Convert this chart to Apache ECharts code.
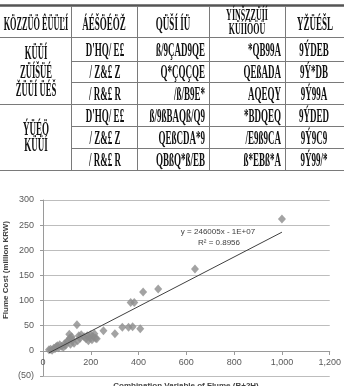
<!DOCTYPE html>
<html><head><meta charset="utf-8">
<script src="https://cdn.jsdelivr.net/npm/echarts@6/dist/echarts.min.js"></script>
<style>html,body{margin:0;padding:0;background:#fff}#c{width:344px;height:386px}</style>
</head><body><div id="c"></div>
<script>
// ---- table texts (garbled glyphs as they appear) ----
var headerCells = ["KÖZZÜÖ ÊÜÜĽÍ", "ÁÉŠÖÉÖŽ", "QÜŠÍ ÍÜ", "YÍNŠZZÜÍÍ\nKÜÍÍÖÖÜ", "YŽÜÉŠL"];
var groupLabels = ["KÜÜÍ\nZÜÍŠÜÉ\nŽÜÜÍ ÜÉŠ", "ÝÜÉÖ\nKÜÜÍ"];
var rowCol2 = ["D'HQ/ E£", "/ Z&£ Z", "/ R&£ R", "D'HQ/ E£", "/ Z&£ Z", "/ R&£ R"];
var rowCol3 = ["ß/9ÇAD9QE", "Q*ÇQÇQE", "/ß/B9E*", "ß/9ßBAQß/Q9", "QEßCDA*9", "QBßQ*ß/EB"];
var rowCol4 = ["*QB99A", "QEßADA", "AQEQY", "*BDQEQ", "/E9ß9CA", "ß*EBß*A"];
var rowCol5 = ["9ÝDEB", "9Ý*DB", "9Ý99A", "9ÝDED", "9Ý9C9", "9Ý99/*"];

// ---- chart data ----
var combVar = [1000, 636, 482, 419, 367, 382, 332, 358, 375, 407, 301, 253, 142,
  25, 32, 38, 45, 50, 55, 60, 65, 70, 78, 85, 90, 95, 100, 105, 110, 112, 115, 120, 125, 130,
  145, 150, 155, 160, 172, 180, 185, 190, 195, 200, 205, 210, 215, 220, 225];
var flumeCost = [262, 163, 123, 117, 96, 96, 47, 47, 48, 44, 34, 40, 52,
  2, 3, 1, 5, 4, 8, 10, 6, 12, 9, 7, 14, 11, 18, 20, 33, 25, 13, 28, 22, 15,
  20, 30, 25, 32, 28, 24, 30, 20, 27, 32, 22, 28, 34, 25, 24];
var trendX = [25, 1000];
var trendY = [-4, 236];
var xTicks = [0, 200, 400, 600, 800, 1000, 1200];
var yTicks = [-50, 0, 50, 100, 150, 200, 250, 300];
var eqText = "y = 246005x - 1E+07";
var r2Text = "R² = 0.8956";
var xName = "Combination Variable of Flume (B+2H)";
var yName = "Flume Cost (million KRW)";

// ---- table layout ----
var rowY = [37, 61, 82, 104, 126, 148, 170];
var g = [];
function hline(y, x1, x2, w, c) {
  g.push({type: 'line', shape: {x1: x1, y1: y, x2: x2, y2: y}, style: {stroke: c || '#7a7a7a', lineWidth: w || 1}, silent: true});
}
function vline(x, y1, y2) {
  g.push({type: 'line', shape: {x1: x, y1: y1, x2: x, y2: y2}, style: {stroke: '#7a7a7a', lineWidth: 1}, silent: true});
}
function txt(s, x, y, align, lh, sx, fs) {
  g.push({type: 'text', x: x, y: y, scaleX: sx || 0.5, silent: true,
    style: {text: s, font: 'bold ' + (fs || 18) + 'px "Liberation Serif"', fill: '#111',
      align: align || 'center', verticalAlign: 'middle', lineHeight: lh || 16}});
}
hline(5.5, 0, 344, 2.5, '#555');
hline(37.5, 0, 344);
hline(61.5, 71, 344); hline(82.5, 71, 344);
hline(104.5, 0, 344);
hline(126.5, 71, 344); hline(148.5, 71, 344);
hline(170.5, 0, 344);
[71.5, 137.5, 209.5, 285.5].forEach(function (x) { vline(x, 6, 170); });

txt(headerCells[0], 36, 25, 'center', 16, 0.46);
txt(headerCells[1], 104, 25);
txt(headerCells[2], 173, 25);
txt(headerCells[3], 247, 23, 'center', 13.5, 0.5, 16);
txt(headerCells[4], 315, 25);
txt(groupLabels[0], 36, 73, 'center', 18.5, 0.48);
txt(groupLabels[1], 36, 138, 'center', 16);
for (var i = 0; i < 6; i++) {
  var cy = (rowY[i] + rowY[i + 1]) / 2 + 2;
  txt(rowCol2[i], 105, cy);
  txt(rowCol3[i], 205, cy, 'right');
  txt(rowCol4[i], 281, cy, 'right');
  txt(rowCol5[i], 314, cy);
}

// ---- chart annotations ----
var small = {fill: '#404040', font: '8px "Liberation Sans"', align: 'center', verticalAlign: 'middle'};
g.push({type: 'text', x: 218, y: 232, silent: true, style: Object.assign({text: eqText}, small)});
g.push({type: 'text', x: 219, y: 243, silent: true, style: Object.assign({text: r2Text}, small)});
g.push({type: 'text', x: 186, y: 386, silent: true, style: {text: xName, fill: '#404040', font: 'bold 8px "Liberation Sans"', align: 'center', verticalAlign: 'middle'}});
g.push({type: 'text', x: 6, y: 270, rotation: Math.PI / 2, silent: true, style: {text: yName, fill: '#404040', font: 'bold 8px "Liberation Sans"', align: 'center', verticalAlign: 'middle'}});

var chart = echarts.init(document.getElementById('c'), null, {renderer: 'canvas'});
chart.setOption({
  animation: false,
  backgroundColor: '#fff',
  grid: {left: 43, right: 14, top: 200, bottom: 10, containLabel: false},
  xAxis: {
    type: 'value', min: xTicks[0], max: xTicks[xTicks.length - 1], interval: 200,
    offset: -25,
    axisLine: {onZero: false, lineStyle: {color: '#9a9a9a'}},
    axisTick: {show: true, length: 4, lineStyle: {color: '#9a9a9a'}},
    splitLine: {show: false},
    axisLabel: {color: '#595959', fontSize: 9, fontFamily: 'Liberation Sans', margin: 7,
      formatter: function (v) { return v.toLocaleString('en-US'); }}
  },
  yAxis: {
    type: 'value', min: yTicks[0], max: yTicks[yTicks.length - 1], interval: 50,
    axisLine: {show: true, onZero: false, lineStyle: {color: '#9a9a9a'}},
    axisTick: {show: true, length: 3, lineStyle: {color: '#9a9a9a'}},
    splitLine: {show: true, lineStyle: {color: '#bdbdbd', width: 1}},
    axisLabel: {color: '#595959', fontSize: 9, fontFamily: 'Liberation Sans', margin: 9,
      formatter: function (v) { return v < 0 ? '(' + (-v) + ')' : String(v); }}
  },
  series: [
    {type: 'scatter', symbol: 'diamond', symbolSize: [8, 9],
      itemStyle: {color: '#8c8c8c'},
      data: combVar.map(function (x, i) { return [x, flumeCost[i]]; }), z: 2},
    {type: 'line', showSymbol: false, symbol: 'none',
      lineStyle: {color: '#404040', width: 1},
      data: trendX.map(function (x, i) { return [x, trendY[i]]; }), z: 3}
  ],
  graphic: g
});
</script></body></html>
